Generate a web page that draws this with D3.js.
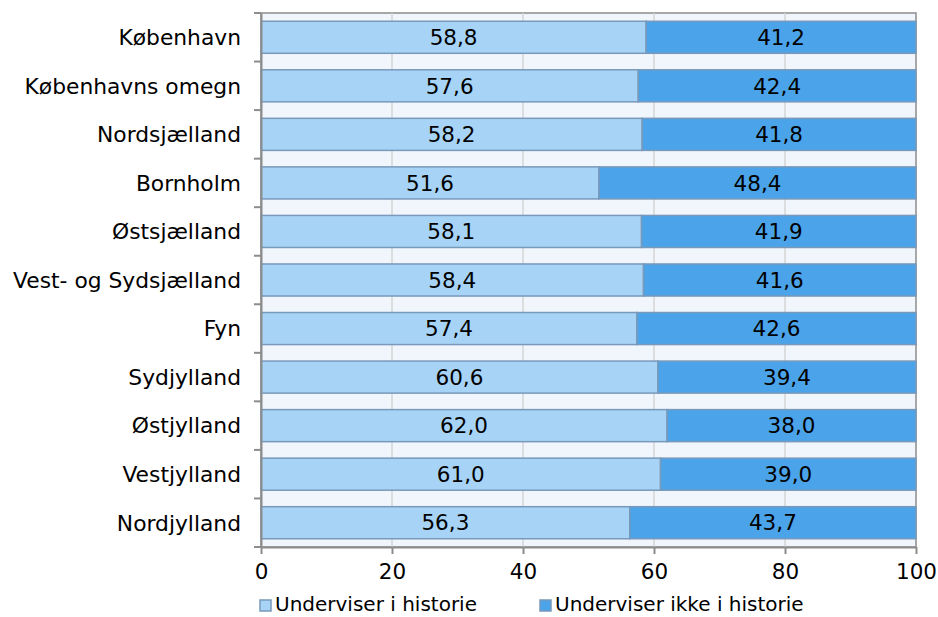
<!DOCTYPE html>
<html><head><meta charset="utf-8">
<script src="https://cdn.jsdelivr.net/npm/d3@7"></script>
<style>body{margin:0;background:#fff;} text{font-family:"DejaVu Sans",Verdana,sans-serif;}</style>
</head><body><svg id="c" width="938" height="617"></svg>
<script>
const categories = ["København","Københavns omegn","Nordsjælland","Bornholm","Østsjælland","Vest- og Sydsjælland","Fyn","Sydjylland","Østjylland","Vestjylland","Nordjylland"];
const underviser = [58.8,57.6,58.2,51.6,58.1,58.4,57.4,60.6,62.0,61.0,56.3];
const ikkeUnderviser = [41.2,42.4,41.8,48.4,41.9,41.6,42.6,39.4,38.0,39.0,43.7];
const seriesNames = ["Underviser i historie","Underviser ikke i historie"];
const xTicks = [0,20,40,60,80,100];

const svg = d3.select("#c");
const m = {l:261, r:916, t:13, b:547};
const fs = 21.5;
const x = d3.scaleLinear().domain([0,100]).range([m.l,m.r]);
const y = d3.scaleBand().domain(categories).range([m.t,m.b]).paddingInner(0.34).paddingOuter(0.17);
const colors = ["#a7d4f6","#4ba4e9"];

svg.append("rect").attr("x",m.l).attr("y",m.t).attr("width",m.r-m.l).attr("height",m.b-m.t).attr("fill","#f1f5fc").attr("stroke","#8c8c8c").attr("stroke-width",1.5);
svg.append("g").selectAll("line").data(xTicks.slice(1,-1)).join("line")
  .attr("x1",d=>x(d)).attr("x2",d=>x(d)).attr("y1",m.t).attr("y2",m.b).attr("stroke","#d4d4d4").attr("stroke-width",1.5);

const rows = categories.map((c,i)=>({c, segs:[{s:0,x0:0,x1:underviser[i],v:underviser[i]},{s:1,x0:underviser[i],x1:underviser[i]+ikkeUnderviser[i],v:ikkeUnderviser[i]}]}));
const g = svg.append("g");
rows.forEach(r=>{
  r.segs.forEach(s=>{
    g.append("rect").attr("x",x(s.x0)).attr("y",y(r.c)).attr("width",x(s.x1)-x(s.x0)).attr("height",y.bandwidth())
      .attr("fill",colors[s.s]).attr("stroke","#7899ba").attr("stroke-width",1.5);
    g.append("text").attr("x",(x(s.x0)+x(s.x1))/2).attr("y",y(r.c)+y.bandwidth()/2).attr("dy","0.36em")
      .attr("text-anchor","middle").attr("font-size",fs).attr("fill","#000").text(d3.format(".1f")(s.v).replace(".",","));
  });
});

// axes
const yAxis = d3.axisLeft(y).tickSize(7).tickPadding(13).tickSizeOuter(0);
const ya = svg.append("g").attr("transform",`translate(${m.l},0)`).call(yAxis);
ya.select(".domain").attr("stroke","#8c8c8c").attr("stroke-width",2);
ya.selectAll(".tick line").attr("stroke","#8c8c8c").attr("stroke-width",2).attr("transform",`translate(0,${y.step()/2})`);
ya.selectAll(".tick text").attr("font-size",21.8).attr("fill","#000").attr("font-family","DejaVu Sans").attr("dy","0.36em");
svg.append("line").attr("x1",m.l-7).attr("x2",m.l).attr("y1",m.t).attr("y2",m.t).attr("stroke","#8c8c8c").attr("stroke-width",2);

const xAxis = d3.axisBottom(x).tickValues(xTicks).tickSize(7).tickPadding(10).tickSizeOuter(0);
const xa = svg.append("g").attr("transform",`translate(0,${m.b})`).call(xAxis);
xa.select(".domain").attr("stroke","#8c8c8c").attr("stroke-width",2);
xa.selectAll(".tick line").attr("stroke","#8c8c8c").attr("stroke-width",2);
xa.selectAll(".tick text").attr("font-size",fs).attr("fill","#000").attr("font-family","DejaVu Sans");

// legend
const lg = svg.append("g");
const lx = [260, 540];
seriesNames.forEach((n,i)=>{
  lg.append("rect").attr("x",lx[i]).attr("y",600).attr("width",11).attr("height",11).attr("fill",colors[i]).attr("stroke","#7899ba").attr("stroke-width",1.5);
  lg.append("text").attr("x",lx[i]+15).attr("y",604).attr("dy","0.36em").attr("font-size",20).attr("fill","#000").text(n);
});
</script></body></html>
